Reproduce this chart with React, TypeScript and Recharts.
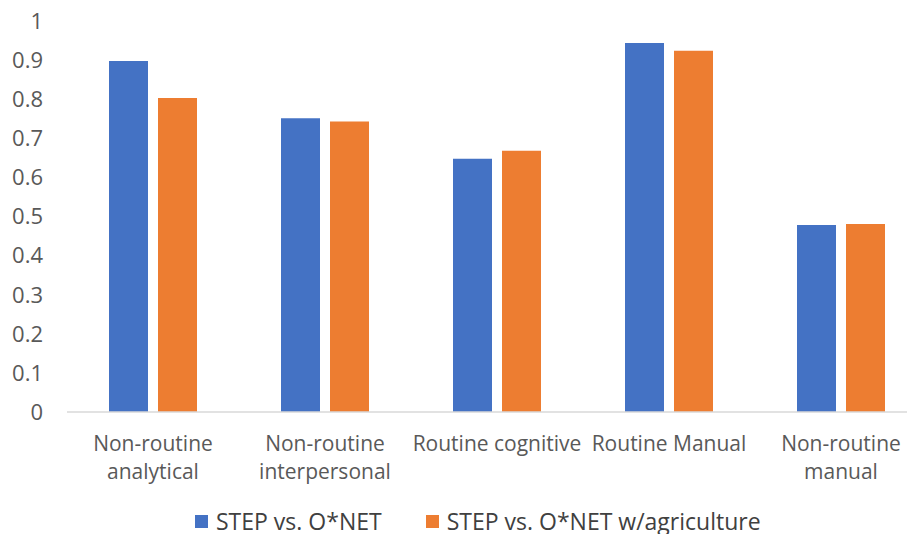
import React from 'react';
import { BarChart, Bar, XAxis, YAxis, Legend } from 'recharts';

const categories = [
  'Non-routine analytical',
  'Non-routine interpersonal',
  'Routine cognitive',
  'Routine Manual',
  'Non-routine manual',
];
const tickLines: string[][] = [
  ['Non-routine', 'analytical'],
  ['Non-routine', 'interpersonal'],
  ['Routine cognitive'],
  ['Routine Manual'],
  ['Non-routine', 'manual'],
];
const stepVsOnet = [0.898, 0.751, 0.648, 0.944, 0.478];
const stepVsOnetAgri = [0.803, 0.743, 0.668, 0.924, 0.481];
const yTicks = [0, 0.1, 0.2, 0.3, 0.4, 0.5, 0.6, 0.7, 0.8, 0.9, 1];
const seriesNames = ['STEP vs. O*NET', 'STEP vs. O*NET w/agriculture'];

const BLUE = '#4472C4';
const ORANGE = '#ED7D31';
const TEXT = '#595959';
const FONT = '"Open Sans", sans-serif';

const data = categories.map((c, i) => ({
  name: c,
  a: stepVsOnet[i],
  b: stepVsOnetAgri[i],
}));

const XTick = (props: any) => {
  const { x, y, payload } = props;
  const idx = categories.indexOf(payload.value);
  const lines = idx >= 0 ? tickLines[idx] : [payload.value];
  return (
    <text x={x} y={y} textAnchor="middle" fill={TEXT} fontSize={21} fontFamily={FONT}>
      {lines.map((l, i) => (
        <tspan key={i} x={x} dy={i === 0 ? 39 : 28}>
          {l}
        </tspan>
      ))}
    </text>
  );
};

const LegendContent = () => (
  <div style={{ display: 'flex', alignItems: 'center', height: 28, lineHeight: '28px', fontFamily: FONT, fontSize: 23, color: '#404040', whiteSpace: 'nowrap' }}>
    {[BLUE, ORANGE].map((c, i) => (
      <div key={i} style={{ display: 'flex', alignItems: 'center', marginRight: i === 0 ? 44 : 0 }}>
        <span style={{ display: 'inline-block', width: 13, height: 13, background: c, marginRight: 8 }} />
        <span>{seriesNames[i]}</span>
      </div>
    ))}
  </div>
);

export default function App() {
  return (
    <div style={{ position: 'relative', width: 915, height: 542, margin: -8, overflow: 'hidden', background: '#fff' }}>
      <BarChart
        width={935}
        height={542}
        data={data}
        margin={{ top: 21, right: 8, left: 0, bottom: 0 }}
        barSize={39}
        barGap={10}
      >
        <XAxis
          dataKey="name"
          interval={0}
          height={130}
          tickLine={false}
          tickSize={0}
          tickMargin={0}
          axisLine={{ stroke: '#D9D9D9', strokeWidth: 1.5 }}
          tick={<XTick />}
        />
        <YAxis
          width={67}
          domain={[0, 1]}
          ticks={yTicks}
          axisLine={false}
          tickLine={false}
          tickSize={0}
          tickMargin={24}
          tickFormatter={(v: number) => String(Math.round(v * 10) / 10)}
          tick={{ fill: TEXT, fontSize: 22, fontFamily: FONT }}
          interval={0}
        />
        <Legend
          layout="horizontal"
          verticalAlign="middle"
          align="center"
          content={<LegendContent />}
          wrapperStyle={{ top: 507, left: 195, width: 700, height: 28 }}
        />
        <Bar dataKey="a" name={seriesNames[0]} fill={BLUE} isAnimationActive={false} />
        <Bar dataKey="b" name={seriesNames[1]} fill={ORANGE} isAnimationActive={false} />
      </BarChart>
    </div>
  );
}
